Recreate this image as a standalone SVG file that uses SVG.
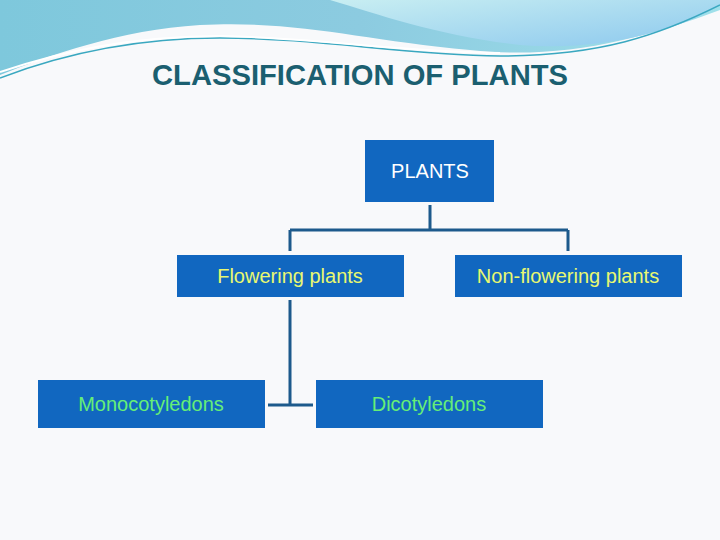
<svg xmlns="http://www.w3.org/2000/svg" width="720" height="540" viewBox="0 0 720 540">
<defs>
<linearGradient id="g1" x1="0" y1="0" x2="1" y2="0"><stop offset="0" stop-color="#7ec8dc"/><stop offset="0.5" stop-color="#8ccbe0"/><stop offset="1" stop-color="#9fe0ea"/></linearGradient>
<linearGradient id="g2" x1="0" y1="0" x2="1" y2="1"><stop offset="0" stop-color="#c8eef2"/><stop offset="1" stop-color="#8cc8ee"/></linearGradient>
<style>
.box{fill:#1167c0}
.t{font-family:"Liberation Sans",Arial,sans-serif;font-size:20px;text-anchor:middle}
.ln{stroke:#1d5a8c;stroke-width:3;fill:none}
</style>
</defs>
<rect width="720" height="540" fill="#f8f9fb"/>
<path d="M0,0 H720 V10 C640,40 560,60 470,50 C360,40 300,20 200,25 C120,30 50,55 0,75 Z" fill="url(#g1)"/>
<path d="M330,0 H720 V5 C680,30 600,52 520,45 C440,36 380,15 330,0 Z" fill="url(#g2)"/>
<path d="M0,78 C60,55 130,38 220,38 C320,38 400,55 500,56 C600,56 660,35 720,5" stroke="#3aa8c0" stroke-width="1.5" fill="none"/>
<path d="M0,72 C60,52 130,36 220,36 C320,38 400,52 500,53" stroke="#ffffff" stroke-width="2" fill="none"/>
<text x="360" y="85" font-family="'Liberation Sans Narrow','Liberation Sans',sans-serif" font-size="30" font-weight="bold" fill="#1b5f70" text-anchor="middle" textLength="416" lengthAdjust="spacingAndGlyphs">CLASSIFICATION OF PLANTS</text>
<g id="connectors">
<path class="ln" d="M430,205 V230 M290,230 H568 M290,230 V251 M568,230 V251 M290,300 V405 M268,405 H313"/>
</g>
<g id="plants"><rect class="box" x="365" y="140" width="129" height="62"/><text class="t" x="430" y="178" fill="#ffffff">PLANTS</text></g>
<g id="flowering"><rect class="box" x="177" y="255" width="227" height="42"/><text class="t" x="290" y="283" fill="#e8f870">Flowering plants</text></g>
<g id="nonflowering"><rect class="box" x="455" y="255" width="227" height="42"/><text class="t" x="568" y="283" fill="#e8f870">Non-flowering plants</text></g>
<g id="mono"><rect class="box" x="38" y="380" width="227" height="48"/><text class="t" x="151" y="411" fill="#66ee77">Monocotyledons</text></g>
<g id="dico"><rect class="box" x="316" y="380" width="227" height="48"/><text class="t" x="429" y="411" fill="#66ee77">Dicotyledons</text></g>
</svg>
